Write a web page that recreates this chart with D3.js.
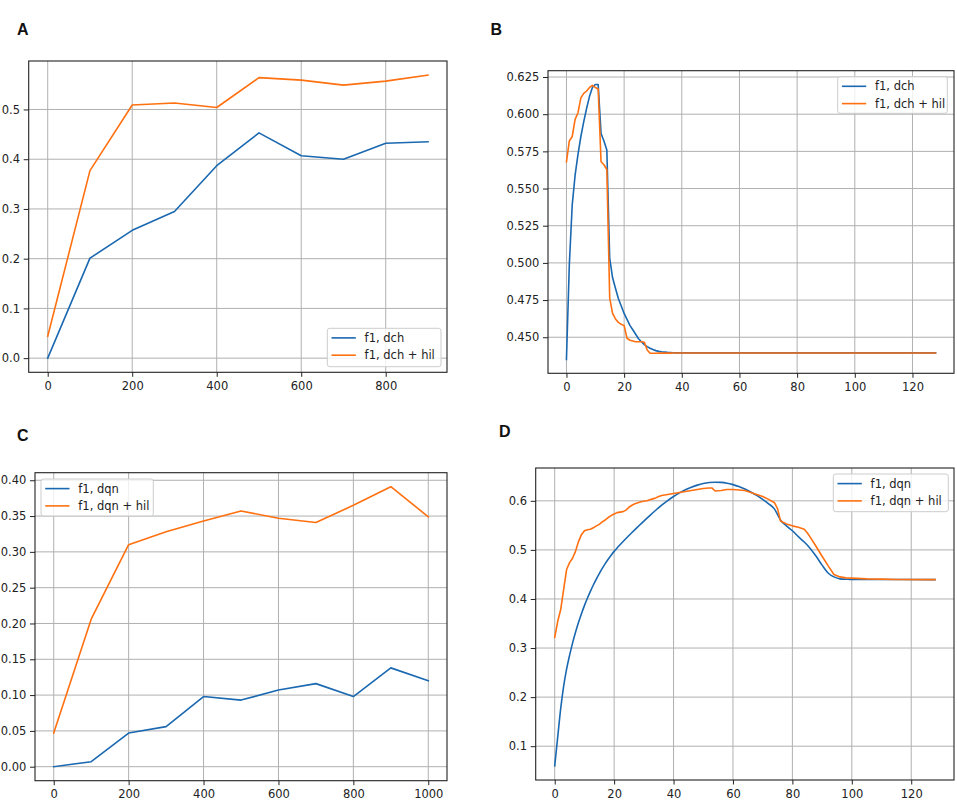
<!DOCTYPE html>
<html>
<head>
<meta charset="utf-8">
<script src="https://cdn.jsdelivr.net/npm/d3@7"></script>
<style>
  html, body { margin: 0; padding: 0; background: #fff; }
  svg { display: block; }
</style>
</head>
<body>
<div id="chart"></div>
<script>
// ---------- Panel A ----------
const aX   = [0, 100, 200, 300, 400, 500, 600, 700, 800, 900];
const aDch = [0.000, 0.201, 0.257, 0.295, 0.387, 0.453, 0.407, 0.400, 0.432, 0.435];
const aHil = [0.044, 0.377, 0.509, 0.513, 0.504, 0.564, 0.559, 0.549, 0.557, 0.569];

// ---------- Panel B ----------
const bX = [0,1,2,3,4,5,6,7,8,9,10,11,12,13,14,15,16,17,18,19,20,21,22,23,24,25,26,27,28,29,30,31,32,33,34,35,36,37,38,39,40,128];
const bDch = [0.435,0.499,0.539,0.559,0.573,0.585,0.595,0.604,0.612,0.618,0.620,0.620,0.587,0.582,0.576,0.503,0.490,0.483,0.476,0.471,0.466,0.462,0.458,0.455,0.452,0.449,0.447,0.445,0.4437,0.4426,0.4417,0.4410,0.4405,0.4402,0.4400,0.4398,0.4397,0.4396,0.4395,0.4395,0.4395,0.4395];
const bHil = [0.568,0.582,0.585,0.5965,0.601,0.611,0.614,0.6156,0.618,0.6194,0.618,0.617,0.568,0.566,0.5628,0.4763,0.466,0.4623,0.460,0.4587,0.4578,0.4493,0.448,0.4475,0.447,0.447,0.447,0.4466,0.4414,0.4392,0.4392,0.4392,0.4393,0.4393,0.4393,0.4393,0.4393,0.4394,0.4394,0.4394,0.4394,0.4394];

// ---------- Panel C ----------
const cX   = [0, 100, 200, 300, 400, 500, 600, 700, 800, 900, 1000];
const cDqn = [0.000, 0.007, 0.047, 0.056, 0.098, 0.093, 0.107, 0.116, 0.098, 0.138, 0.120];
const cHil = [0.047, 0.206, 0.310, 0.328, 0.343, 0.357, 0.347, 0.341, 0.365, 0.391, 0.349];

// ---------- Panel D ----------
const dDqnX = [0,1,2,3,4,5,6,7,8,9,10,11,12,13,14,15,16,17,18,19,20,21,22,24,26,28,30,32,34,36,38,40,42,44,46,48,50,52,54,56,58,60,62,64,66,68,70,72,74,75,76,78,80,82,84,86,88,90,92,94,96,98,100,128];
const dDqn  = [0.060,0.118,0.176,0.222,0.257,0.285,0.310,0.332,0.352,0.370,0.3865,0.4015,0.4155,0.4285,0.4405,0.4517,0.4622,0.4720,0.4810,0.4893,0.4970,0.5040,0.5106,0.5232,0.5354,0.5472,0.5588,0.5700,0.5808,0.5910,0.6004,0.6088,0.6162,0.6226,0.6278,0.6320,0.6352,0.6372,0.6380,0.6376,0.6360,0.6330,0.6290,0.6240,0.6180,0.6110,0.6030,0.5940,0.5830,0.572,0.561,0.549,0.539,0.527,0.516,0.503,0.487,0.469,0.453,0.445,0.441,0.4403,0.4397,0.4395];
const dHilX = [0,1,2,3,4,5,6,7,8,9,10,11,12,13,14,15,16,17,18,19,20,21,22,23,24,25,26,27,28,29,30,31,32,33,34,35,36,38,40,42,44,46,48,50,52,53,54,56,58,60,62,64,66,68,70,72,74,75,76,78,80,82,84,85,86,88,90,92,94,96,98,100,105,110,115,128];
const dHil  = [0.322,0.354,0.378,0.419,0.460,0.474,0.483,0.497,0.517,0.531,0.539,0.541,0.542,0.545,0.549,0.552,0.557,0.561,0.566,0.570,0.573,0.576,0.577,0.578,0.581,0.587,0.591,0.594,0.596,0.598,0.599,0.600,0.602,0.604,0.606,0.609,0.611,0.613,0.615,0.617,0.619,0.621,0.623,0.625,0.626,0.626,0.620,0.621,0.623,0.623,0.622,0.621,0.617,0.613,0.609,0.603,0.596,0.584,0.559,0.553,0.549,0.546,0.542,0.535,0.526,0.507,0.487,0.468,0.450,0.445,0.443,0.4425,0.441,0.4405,0.4398,0.4395];

// ---------- tick labels ----------
const aXTicks = [0, 200, 400, 600, 800];
const aYTicks = [0.0, 0.1, 0.2, 0.3, 0.4, 0.5];
const bXTicks = [0, 20, 40, 60, 80, 100, 120];
const bYTicks = [0.450, 0.475, 0.500, 0.525, 0.550, 0.575, 0.600, 0.625];
const cXTicks = [0, 200, 400, 600, 800, 1000];
const cYTicks = [0.00, 0.05, 0.10, 0.15, 0.20, 0.25, 0.30, 0.35, 0.40];
const dXTicks = [0, 20, 40, 60, 80, 100, 120];
const dYTicks = [0.1, 0.2, 0.3, 0.4, 0.5, 0.6];

const BLUE = "#1a68b0", ORANGE = "#ff7010";

const panels = [
  { title: "A", tx: 17, ty: 35, box: [28.7, 61, 447, 372.3],
    series: [{x: aX, y: aDch, name: "f1, dch", color: BLUE}, {x: aX, y: aHil, name: "f1, dch + hil", color: ORANGE}],
    xt: aXTicks, yt: aYTicks, yf: ".1f", leg: [327.3, 328.3, 441, 366.7] },
  { title: "B", tx: 490.5, ty: 35, box: [548, 70.7, 954, 373.3],
    series: [{x: bX, y: bDch, name: "f1, dch", color: BLUE}, {x: bX, y: bHil, name: "f1, dch + hil", color: ORANGE}],
    xt: bXTicks, yt: bYTicks, yf: ".3f", leg: [837.7, 76.7, 947.3, 113.3] },
  { title: "C", tx: 17, ty: 440.7, box: [35, 472.7, 447, 780.7],
    series: [{x: cX, y: cDqn, name: "f1, dqn", color: BLUE}, {x: cX, y: cHil, name: "f1, dqn + hil", color: ORANGE}],
    xt: cXTicks, yt: cYTicks, yf: ".2f", leg: [41, 479, 153.3, 516] },
  { title: "D", tx: 499, ty: 436.7, box: [535.7, 468, 954, 780],
    series: [{x: dDqnX, y: dDqn, name: "f1, dqn", color: BLUE, smooth: true}, {x: dHilX, y: dHil, name: "f1, dqn + hil", color: ORANGE}],
    xt: dXTicks, yt: dYTicks, yf: ".1f", leg: [833.3, 474, 948.3, 511.7] }
];

const svg = d3.select("#chart").append("svg").attr("width", 957).attr("height", 805);
const FONT = "DejaVu Sans, sans-serif";

function padded(ext) {
  const r = ext[1] - ext[0];
  return [ext[0] - 0.05 * r, ext[1] + 0.05 * r];
}

panels.forEach(p => {
  const [x0, y0, x1, y1] = p.box;
  const allX = p.series.flatMap(s => s.x);
  const allY = p.series.flatMap(s => s.y);
  const x = d3.scaleLinear().domain(padded(d3.extent(allX))).range([x0, x1]);
  const y = d3.scaleLinear().domain(padded(d3.extent(allY))).range([y1, y0]);
  const g = svg.append("g");

  // grid
  g.append("g").selectAll("line").data(p.xt).join("line")
    .attr("x1", d => x(d)).attr("x2", d => x(d)).attr("y1", y0).attr("y2", y1)
    .attr("stroke", "#b0b0b0").attr("stroke-width", 1);
  g.append("g").selectAll("line").data(p.yt).join("line")
    .attr("y1", d => y(d)).attr("y2", d => y(d)).attr("x1", x0).attr("x2", x1)
    .attr("stroke", "#b0b0b0").attr("stroke-width", 1);

  // axes
  const xa = g.append("g").attr("transform", `translate(0,${y1})`)
    .call(d3.axisBottom(x).tickValues(p.xt).tickFormat(d3.format("d")).tickSize(4.5).tickPadding(5));
  const ya = g.append("g").attr("transform", `translate(${x0},0)`)
    .call(d3.axisLeft(y).tickValues(p.yt).tickFormat(d3.format(p.yf)).tickSize(5).tickPadding(3.7));
  [xa, ya].forEach(a => {
    a.select(".domain").remove();
    a.selectAll(".tick line").attr("stroke", "#222").attr("stroke-width", 1);
    a.selectAll(".tick text").attr("fill", "#222").style("font-family", FONT).style("font-size", "11.5px");
  });

  // lines
  const clipId = "clip" + p.title;
  svg.append("clipPath").attr("id", clipId).append("rect")
    .attr("x", x0).attr("y", y0).attr("width", x1 - x0).attr("height", y1 - y0);
  p.series.forEach(s => {
    const pts = s.x.map((v, i) => [v, s.y[i]]);
    const line = d3.line().x(d => x(d[0])).y(d => y(d[1]));
    if (s.smooth) line.curve(d3.curveMonotoneX);
    g.append("path").datum(pts)
      .attr("clip-path", `url(#${clipId})`)
      .attr("fill", "none").attr("stroke", s.color).attr("stroke-width", 1.6)
      .attr("stroke-linejoin", "round").attr("stroke-linecap", "square")
      .attr("d", line);
  });

  // frame
  g.append("rect").attr("x", x0).attr("y", y0).attr("width", x1 - x0).attr("height", y1 - y0)
    .attr("fill", "none").attr("stroke", "#222").attr("stroke-width", 1.1);

  // legend
  const [lx0, ly0, lx1, ly1] = p.leg;
  const lg = g.append("g");
  lg.append("rect").attr("x", lx0).attr("y", ly0).attr("width", lx1 - lx0).attr("height", ly1 - ly0)
    .attr("rx", 2.5).attr("fill", "#fff").attr("fill-opacity", 0.8)
    .attr("stroke", "#cccccc").attr("stroke-width", 1);
  p.series.forEach((s, i) => {
    const cy = ly0 + 9.6 + i * 17.3;
    lg.append("line").attr("x1", lx0 + 4.2).attr("x2", lx0 + 28.5).attr("y1", cy).attr("y2", cy)
      .attr("stroke", s.color).attr("stroke-width", 1.6);
    lg.append("text").attr("x", lx0 + 37.3).attr("y", cy).attr("dy", "0.36em")
      .attr("fill", "#222").style("font-family", FONT).style("font-size", "11.5px").text(s.name);
  });

  // title
  svg.append("text").attr("x", p.tx).attr("y", p.ty)
    .style("font-family", "Liberation Sans, Arial, sans-serif").style("font-weight", "bold")
    .style("font-size", "16px").attr("fill", "#111").text(p.title);
});
</script>
</body>
</html>
